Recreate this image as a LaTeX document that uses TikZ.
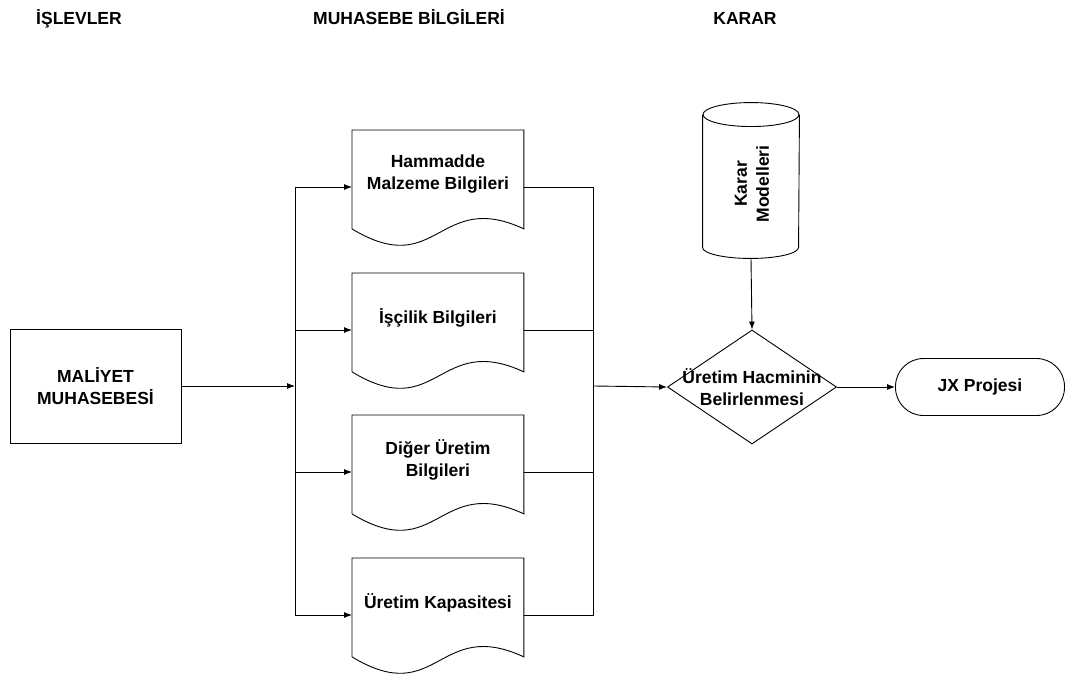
\documentclass[tikz,border=0pt]{standalone}
\usepackage{fontspec}
\setmainfont{Liberation Sans}
\usetikzlibrary{arrows.meta,calc,shapes.geometric}

\begin{document}
\begin{tikzpicture}[x=1pt,y=-1pt,
  line width=0.9pt,
  every node/.style={font=\bfseries\fontsize{17.5}{22}\selectfont, align=center, inner sep=0pt},
  arr/.style={-{Latex[length=8pt,width=6pt]}},
  docbox/.style={minimum width=171pt, minimum height=88pt, anchor=north west},
  hdr/.style={anchor=base},
]
\useasboundingbox (0,0) rectangle (1066,674);

% column headings
\node[hdr] (h1) at (79,25) {İŞLEVLER};
\node[hdr] (h2) at (409,25) {MUHASEBE BİLGİLERİ};
\node[hdr] (h3) at (745,25) {KARAR};

% source process
\node[draw, minimum width=171pt, minimum height=114pt] (mal) at (95.5,386) {MALİYET\\MUHASEBESİ};

% document shapes
\node[docbox] (d1) at (352,130) {Hammadde\\Malzeme Bilgileri};
\node[docbox] (d2) at (352,273) {İşçilik Bilgileri};
\node[docbox] (d3) at (352,415) {Diğer Üretim\\Bilgileri};
\node[docbox] (d4) at (352,558) {Üretim Kapasitesi};
\foreach \d in {d1,d2,d3,d4}
  \draw ($(\d.south west)+(0,10)$) -- (\d.north west) -- (\d.north east) -- ($(\d.south east)+(0,10)$)
    .. controls ($(\d.south)+(0,-30)$) and ($(\d.south)+(0,62)$) .. ($(\d.south west)+(0,10)$);

% bus points left and right of the documents
\foreach \i in {1,2,3,4} {
  \coordinate (bl\i) at ($(d\i.north west)+(-57,57)$);
  \coordinate (br\i) at ($(d\i.north east)+(70,57)$);
}

% fan-out from the source
\draw (bl1) -- (bl4);
\draw[arr] (mal.east) -- (mal.east -| bl1);
\foreach \i in {1,2,3,4}
  \draw[arr] (bl\i) -- (d\i.west |- bl\i);

% fan-in to the decision
\draw (br1) -- (br4);
\foreach \i in {1,2,3,4}
  \draw (d\i.east |- br\i) -- (br\i);

% decision
\node[draw, diamond, minimum width=169pt, minimum height=114pt] (dia) at (752,387) {};
\node (diatext) at (dia.center) {Üretim Hacminin\\Belirlenmesi};
\draw[arr] (mal.east -| br1) -- (dia.west);

% decision models store
\node[minimum width=96pt, minimum height=132pt] (cyl) at (751,181) {};
\draw (cyl.north west) -- (cyl.south west)
  arc[start angle=180, end angle=360, x radius=48pt, y radius=11pt] -- (cyl.north east);
\draw (cyl.north) ellipse[x radius=48pt, y radius=12pt];
\node[rotate=90] (cyltext) at (752,184) {Karar\\Modelleri};
\coordinate (cylbot) at ($(cyl.south)+(0,11)$);
\draw[arr] (cylbot) -- (dia.north);

% result
\node[draw, rounded corners=28pt, minimum width=169pt, minimum height=57pt] (jx) at (980,387) {JX Projesi};
\draw[arr] (dia.east) -- (jx.west);
\end{tikzpicture}
\end{document}
